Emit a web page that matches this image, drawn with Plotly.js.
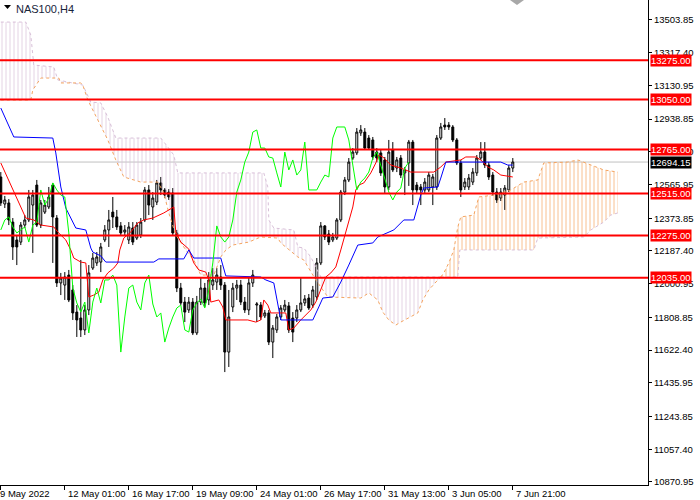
<!DOCTYPE html>
<html><head><meta charset="utf-8">
<script src="https://cdn.plot.ly/plotly-3.0.1.min.js"></script>
<style>html,body{margin:0;padding:0;background:#fff}#chart{width:700px;height:500px}</style>
</head><body><div id="chart"></div>
<script>
// ---- candles (NAS100, H4), bar index 0 = 9 May 2022 09:00 ----
const candleOpen = [12609,12455,12461,12352,12250,12238,12335,12364,12449,12563,12335,12409,12438,12563,12375,12005,11993,12050,11965,11839,11805,11737,11851,12090,12119,12124,12250,12307,12409,12381,12330,12295,12250,12318,12261,12278,12364,12535,12438,12466,12575,12535,12523,12518,12290,11976,11896,11851,11896,11720,11896,11976,11908,11993,12010,12039,11993,11611,11868,11976,11993,11896,11851,12005,11879,11879,11817,11834,11668,11737,11811,11851,11874,11805,11805,11851,11891,11919,11879,11925,12119,12330,12284,12250,12261,12364,12523,12592,12717,12746,12860,12865,12831,12820,12751,12746,12706,12552,12763,12660,12717,12632,12689,12808,12563,12552,12535,12535,12552,12552,12831,12905,12905,12894,12820,12689,12552,12552,12580,12632,12717,12751,12677,12620,12523,12489,12506,12535,12660];
const candleHigh = [12637,12501,12483,12375,12278,12352,12392,12535,12535,12592,12478,12478,12552,12575,12392,12062,12067,12079,11993,11879,12136,11879,12107,12176,12181,12233,12335,12421,12495,12421,12352,12335,12352,12352,12352,12375,12552,12563,12523,12592,12609,12546,12540,12546,12307,12005,11925,11925,11919,11931,12033,12005,12067,12090,12090,12107,12010,11965,12005,12022,12022,11925,12033,12079,11896,11896,11851,11851,11765,11828,11879,11908,11896,11839,11879,12033,11936,11942,11988,12147,12352,12335,12307,12290,12375,12535,12609,12717,12774,12888,12905,12888,12848,12837,12774,12763,12723,12820,12808,12723,12734,12666,12820,12820,12580,12569,12603,12637,12626,12848,12917,12945,12922,12905,12831,12706,12603,12626,12660,12734,12808,12808,12694,12637,12546,12546,12563,12677,12717];
const candleLow = [12444,12432,12335,12136,12107,12221,12318,12352,12176,12324,12318,12398,12426,12119,11982,11936,11908,11896,11794,11697,11697,11708,11822,12079,12102,12067,12238,12210,12318,12307,12273,12273,12227,12221,12250,12261,12352,12392,12364,12449,12506,12489,12478,12278,11953,11879,11782,11834,11708,11708,11879,11868,11879,11965,11965,11965,11497,11526,11839,11908,11879,11834,11822,11982,11782,11794,11805,11651,11577,11720,11794,11839,11720,11668,11782,11839,11874,11851,11862,11908,12107,12250,12221,12238,12250,12352,12506,12580,12706,12734,12843,12763,12763,12706,12694,12615,12518,12535,12637,12637,12603,12506,12558,12449,12518,12449,12518,12523,12449,12535,12820,12877,12877,12808,12677,12495,12535,12535,12563,12615,12706,12660,12592,12501,12461,12472,12421,12523,12637];
const candleClose = [12461,12478,12364,12210,12210,12335,12364,12495,12506,12335,12461,12449,12495,12381,12005,12033,12039,11908,11834,11794,11737,11851,12062,12147,12153,12210,12307,12364,12381,12324,12290,12307,12324,12238,12335,12352,12535,12449,12489,12575,12535,12506,12495,12290,11976,11891,11839,11896,11720,11896,11976,11891,12022,12022,12050,11993,11611,11811,11976,11993,11896,11851,12005,12050,11885,11811,11834,11668,11748,11811,11862,11879,11737,11725,11851,11891,11914,11862,11965,12119,12330,12267,12238,12267,12364,12523,12592,12694,12751,12865,12877,12774,12774,12723,12717,12632,12552,12751,12649,12706,12620,12649,12808,12535,12535,12535,12580,12620,12609,12831,12894,12894,12894,12820,12689,12535,12580,12603,12637,12717,12751,12677,12609,12523,12478,12523,12546,12660,12694.15];

// ---- Ichimoku lines (bar index, price) ----
const tenkanIdx = [0,3.25,5,6.25,8.25,10,13.25,14.25,16.25,17.5,18.25,20,21.25,21.75,22,23.25,24.5,25.5,26.75,28.25,29.25,29.75,30.75,32.5,34.25,35.75,38,40.75,43.25,43.75,45,47,48.25,49.5,51.25,52,52.5,54.5,55.5,56.25,61.75,63.75,65,65.75,66.75,67.5,71.25,72,73.25,75,77.5,78.75,80,81.25,82.5,83.75,85,86.25,87,88,88.75,89.5,90.75,92.5,93.75,94.5,95.5,97.5,100,102.5,108.25,110,111.25,115,116.25,118.75,120,121.75,123.25,125,128];
const tenkanVal = [12689,12523,12438,12375,12364,12335,12324,12295,12250,12193,12147,12124,12119,12005,11925,11936,11953,12022,12062,12090,12119,12193,12261,12295,12347,12364,12375,12404,12438,12295,12238,12198,12119,12079,12067,12022,11896,11908,11868,11794,11794,11782,11794,11908,11879,11834,11834,11737,11748,11794,11851,11896,11965,12039,12062,12096,12193,12290,12347,12438,12535,12563,12575,12632,12689,12734,12723,12677,12660,12637,12637,12666,12694,12706,12723,12723,12706,12666,12649,12620,12609];
const kijunIdx = [0,3.25,13,13.75,15,16.25,18.75,21.25,22.5,23,25,26.25,38.25,39.5,45.75,47,48.25,55,56.25,65,66.25,68.25,70,78,79.5,80.5,83,85,87,89.25,93,94.25,98.25,100.75,103.25,105,105.75,109.25,110,111.25,125,126.75,128];
const kijunVal = [13002,12837,12831,12746,12552,12432,12318,12307,12204,12181,12159,12124,12124,12142,12142,12193,12147,12147,12045,12039,12022,12005,11794,11794,11868,11919,11925,12010,12107,12221,12233,12267,12307,12364,12364,12506,12546,12552,12603,12694,12694,12677,12677];
const senkouAIdx = [0,7.5,8,10,14.5,15,20,20.5,21.75,24.25,26.75,28.75,30.75,35,39.25,40.75,42,43.75,46.25,48.25,50,53.25,55,56.25,58,62,65,69.25,70,74.25,75.75,78.75,80.5,81.75,90,92,94.25,95.5,97,98.75,100,102,104.25,105.5,107,109.25,110,110.75,112,113.25,114.25,115,118.25,119.5,123.25,127.5,130.75,134.25,135.75,141.75,144.25,147.5,150.75,154.25];
const senkouAVal = [13048,13048,13105,13173,13173,13145,13145,13133,13048,12934,12820,12706,12609,12580,12580,12518,12404,12278,12193,12136,12050,12050,12153,12193,12221,12238,12267,12261,12233,12153,12136,12022,11965,11925,11919,11948,11908,11839,11794,11765,11782,11805,11834,11908,11965,12022,12039,12062,12119,12193,12324,12381,12392,12495,12506,12535,12580,12592,12689,12694,12706,12677,12649,12637];
const senkouBIdx = [0,6.25,7.5,8.25,13.25,14.25,20.5,22.5,25,26.75,28.75,40,41.75,43.25,44.25,65.75,66.75,67,68.25,73.25,74.25,75.75,77.5,78.75,80,110,114.25,114.75,133.25,134.25,145.75,147.5,150.75,152.5,154.25];
const senkouBVal = [13492,13492,13418,13247,13236,13162,13133,13036,13031,12951,12831,12831,12780,12734,12632,12632,12552,12364,12318,12307,12210,12204,12153,12096,12039,12039,12039,12193,12193,12261,12267,12307,12352,12392,12404];
const chikouShift = 26;

// ---- levels, axis ticks ----
const levels = [13275, 13050, 12765, 12515, 12275, 12035];
const lastPrice = 12694.15;
const yTickVals = [13503.85,13317.40,13130.95,12938.85,12752.40,12565.95,12373.85,12187.40,12000.95,11808.85,11622.40,11435.95,11243.85,11057.40,10870.95];
const xTickIdx = [0,16,32,48,64,80,96,112,128];
const xTickLabels = ["9 May 2022","12 May 01:00","16 May 17:00","19 May 09:00","24 May 01:00","26 May 17:00","31 May 13:00","3 Jun 05:00","7 Jun 21:00"];
const cloudSplit = 110;

const barIdx = candleClose.map((_, i) => i);
const chikouX = [], chikouY = [];
for (let i = chikouShift; i < candleClose.length; i++) { chikouX.push(i - chikouShift); chikouY.push(candleClose[i]); }

function seg(xs, ys, from, to) {
  const X = [], Y = [];
  xs.forEach((x, i) => { if (x >= from && x <= to) { X.push(x); Y.push(ys[i]); } });
  return {X, Y};
}
const A1 = seg(senkouAIdx, senkouAVal, -1, cloudSplit), B1 = seg(senkouBIdx, senkouBVal, -1, cloudSplit);
const A2 = seg(senkouAIdx, senkouAVal, cloudSplit, 999), B2 = seg(senkouBIdx, senkouBVal, cloudSplit, 999);

const THISTLE = '#d8bfd8', SANDY = '#f4a460';
const FONT = 'Liberation Sans, Arial, sans-serif';

const traces = [
  {x: B1.X, y: B1.Y, mode: 'lines', line: {color: THISTLE, width: 1, dash: 'dot'}, hoverinfo: 'skip'},
  {x: A1.X, y: A1.Y, mode: 'lines', line: {color: SANDY, width: 1, dash: 'dot'}, fill: 'tonexty',
   fillcolor: 'rgba(0,0,0,0)', fillpattern: {shape: '|', fgcolor: THISTLE, bgcolor: 'rgba(0,0,0,0)', fgopacity: 0.7, size: 4, solidity: 0.25}, hoverinfo: 'skip'},
  {x: B2.X, y: B2.Y, mode: 'lines', line: {color: THISTLE, width: 1, dash: 'dot'}, hoverinfo: 'skip'},
  {x: A2.X, y: A2.Y, mode: 'lines', line: {color: SANDY, width: 1, dash: 'dot'}, fill: 'tonexty',
   fillcolor: 'rgba(0,0,0,0)', fillpattern: {shape: '|', fgcolor: SANDY, bgcolor: 'rgba(0,0,0,0)', fgopacity: 0.7, size: 4, solidity: 0.25}, hoverinfo: 'skip'},
  {type: 'candlestick', x: barIdx, open: candleOpen, high: candleHigh, low: candleLow, close: candleClose,
   increasing: {line: {color: '#000', width: 1}, fillcolor: '#fff'},
   decreasing: {line: {color: '#000', width: 1}, fillcolor: '#000'},
   whiskerwidth: 0, hoverinfo: 'skip'},
  {x: tenkanIdx, y: tenkanVal, mode: 'lines', line: {color: '#ff0000', width: 1}, hoverinfo: 'skip'},
  {x: kijunIdx, y: kijunVal, mode: 'lines', line: {color: '#0000ff', width: 1}, hoverinfo: 'skip'},
  {x: chikouX, y: chikouY, mode: 'lines', line: {color: '#00ff00', width: 1}, hoverinfo: 'skip'}
];

const PW = 648, PH = 485;
const shapes = [
  {type: 'line', xref: 'paper', x0: 0, x1: 1, yref: 'y', y0: lastPrice, y1: lastPrice, line: {color: '#c0c0c0', width: 1}, layer: 'below'}
];
levels.forEach(v => shapes.push({type: 'line', xref: 'paper', x0: 0, x1: 1, yref: 'y', y0: v, y1: v, line: {color: '#ff0000', width: 2}}));
// small black triangle before the symbol name
shapes.push({type: 'path', xref: 'paper', yref: 'paper',
  path: `M ${4/PW},${1-5/PH} L ${11/PW},${1-5/PH} L ${7.5/PW},${1-9/PH} Z`, fillcolor: '#000', line: {width: 0}});
// grey shift marker at the top
shapes.push({type: 'path', xref: 'paper', yref: 'paper',
  path: `M ${510/PW},1 L ${524/PW},1 L ${517/PW},${1-5/PH} Z`, fillcolor: '#a8a8a8', line: {width: 0}});

const annotations = [
  {xref: 'paper', yref: 'paper', x: 0, y: 1, xanchor: 'left', yanchor: 'top', xshift: 14, yshift: -1,
   text: 'NAS100,H4', showarrow: false, font: {family: FONT, size: 11, color: '#17243a'}}
];
xTickIdx.forEach((v, i) => annotations.push({xref: 'x', yref: 'paper', x: v, y: 0, xanchor: 'left', yanchor: 'top',
  xshift: i === 0 ? -3 : 1, yshift: -1, text: xTickLabels[i], showarrow: false, font: {family: FONT, size: 9.5, color: '#000'}}));
levels.forEach(v => annotations.push({xref: 'paper', yref: 'y', x: 1, y: v, xanchor: 'left', yanchor: 'middle', xshift: 2,
  text: v.toFixed(2), showarrow: false, bgcolor: '#ff0000', borderpad: 0, font: {family: FONT, size: 9.5, color: '#fff'}}));
annotations.push({xref: 'paper', yref: 'y', x: 1, y: lastPrice, xanchor: 'left', yanchor: 'middle', xshift: 2,
  text: lastPrice.toFixed(2), showarrow: false, bgcolor: '#000', borderpad: 0, font: {family: FONT, size: 9.5, color: '#fff'}});

const layout = {
  width: 700, height: 500,
  margin: {l: 0, r: 52, t: 0, b: 15, pad: 0},
  paper_bgcolor: '#fff', plot_bgcolor: '#fff',
  showlegend: false, hovermode: false, dragmode: false,
  xaxis: {type: 'linear', range: [-0.2, 161.8], tickmode: 'array', tickvals: xTickIdx, ticks: 'outside', ticklen: 4,
    tickcolor: '#000', showticklabels: false, showgrid: false, zeroline: false, showline: true, linecolor: '#000',
    linewidth: 1, rangeslider: {visible: false}, fixedrange: true},
  yaxis: {side: 'right', range: [10853.3, 13617.8], tickmode: 'array', tickvals: yTickVals,
    ticktext: yTickVals.map(v => v.toFixed(2)), ticks: 'outside', ticklen: 3, tickcolor: '#000',
    showgrid: false, zeroline: false, showline: true, linecolor: '#000', linewidth: 1, fixedrange: true,
    tickfont: {family: FONT, size: 9.5, color: '#000'}},
  shapes: shapes,
  annotations: annotations
};

Plotly.newPlot('chart', traces, layout, {displayModeBar: false, staticPlot: true});
</script>
</body></html>
